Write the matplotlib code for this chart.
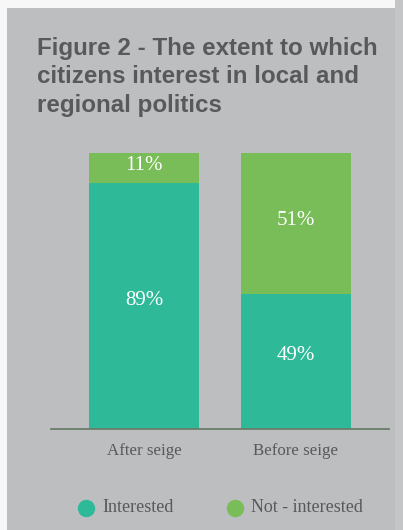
import matplotlib
matplotlib.use("Agg")
import matplotlib.pyplot as plt
from matplotlib.patches import Rectangle
from matplotlib.lines import Line2D

categories = ["After seige", "Before seige"]
interested = [89, 49]
not_interested = [11, 51]
series_names = ["Interested", "Not - interested"]

teal = "#2eb999"
green = "#78bd57"
bg = "#bdbec0"
txt = "#58595b"

fig = plt.figure(figsize=(4.03, 5.30), dpi=100)
fig.patch.set_facecolor("#f7f7f7")
fig.patches.append(Rectangle((395/403, 0), 8/403, 1, transform=fig.transFigure,
                             facecolor="#c4c5c7", edgecolor="none", zorder=-11))
fig.patches.append(Rectangle((7/403, 0), 388/403, 1 - 8/530, transform=fig.transFigure,
                             facecolor=bg, edgecolor="none", zorder=-10))

fig.text(37/403, 1 - 37/530, "Figure 2 - The extent to which\ncitizens interest in local and\nregional politics",
         family="Liberation Sans", weight="bold", fontsize=17.4, color=txt, va="top", ha="left",
         linespacing=1.3)

ax = fig.add_axes([51/403, 1 - 429/530, 338/403, (429 - 153)/530])
ax.set_facecolor("none")
x = list(range(len(categories)))
w = 0.724
ax.bar(x, interested, width=w, color=teal)
ax.bar(x, not_interested, width=w, bottom=interested, color=green)
for i in x:
    ax.text(i, interested[i] / 2 + 2, f"{interested[i]}%", ha="center", va="center",
            color="white", family="Liberation Serif", fontsize=15)
    ax.text(i, interested[i] + not_interested[i] / 2 + 1, f"{not_interested[i]}%", ha="center", va="center",
            color="white", family="Liberation Serif", fontsize=15)
ax.set_xlim(-0.612, 1.612)
ax.set_ylim(0, 100)
for s in ["top", "right", "left"]:
    ax.spines[s].set_visible(False)
ax.spines["bottom"].set_color("#6b7d6b")
ax.spines["bottom"].set_linewidth(1.3)
ax.set_yticks([])
ax.set_xticks(x)
ax.set_xticklabels(categories, family="Liberation Serif", fontsize=12.2, color=txt)
ax.tick_params(axis="x", length=0, pad=10)

# legend
for px, name, col in [(86, series_names[0], teal), (235, series_names[1], green)]:
    fig.lines.append(Line2D([px/403], [1 - 508/530], marker="o", markersize=11.5,
                            color=col, transform=fig.transFigure, linestyle="none"))
    fig.text((px + 16)/403, 1 - 508/530, name, family="Liberation Serif", fontsize=13,
             color=txt, va="center", ha="left")

fig.savefig("out.png", dpi=100)
